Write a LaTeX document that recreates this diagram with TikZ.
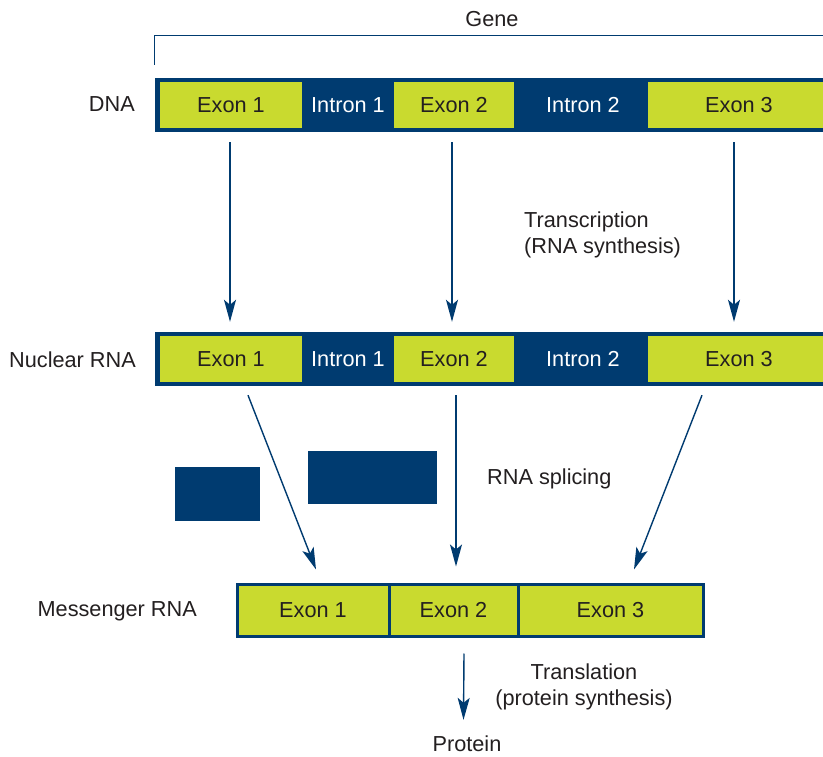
\documentclass[tikz,border=0pt]{standalone}
\usepackage{fontspec}
\setmainfont{Liberation Sans}
\usetikzlibrary{arrows.meta,calc}
\definecolor{dblue}{RGB}{0,59,112}
\definecolor{lime}{RGB}{201,218,47}
\definecolor{txt}{RGB}{35,31,32}
\begin{document}
\begin{tikzpicture}[x=1pt,y=-1pt,
  every node/.style={font=\fontsize{21.7}{26}\selectfont, text=txt, inner sep=0pt},
  bar/.style={fill=dblue, minimum height=54},
  exonbox/.style={fill=lime, minimum height=46},
  intronlbl/.style={text=white},
  mbox/.style={fill=lime, draw=dblue, line width=3pt, minimum height=52},
  arr/.style={draw=dblue, line width=1.4pt, -{Stealth[length=22pt,width=12pt,inset=5pt]}},
  block/.style={fill=dblue},
]
\useasboundingbox (0,0) rectangle (823,757);
\fill[white] (0,0) rectangle (823,757);

% DNA
\node[bar, minimum width=675] (dna) at (492.5,105) {};
\node[exonbox, minimum width=142] (de1) at (231,105) {Exon 1};
\node[intronlbl] (di1) at (348,105) {Intron 1};
\node[exonbox, minimum width=120] (de2) at (454,105) {Exon 2};
\node[intronlbl] (di2) at (583,105) {Intron 2};
\node[exonbox, minimum width=182] (de3) at (739,105) {Exon 3};

% Nuclear RNA
\node[bar, minimum width=675] (nuc) at (492.5,359) {};
\node[exonbox, minimum width=142] (ne1) at (231,359) {Exon 1};
\node[intronlbl] (ni1) at (348,359) {Intron 1};
\node[exonbox, minimum width=120] (ne2) at (454,359) {Exon 2};
\node[intronlbl] (ni2) at (583,359) {Intron 2};
\node[exonbox, minimum width=182] (ne3) at (739,359) {Exon 3};

% Messenger RNA
\node[mbox, minimum width=152] (me1) at (313,610) {Exon 1};
\node[mbox, minimum width=129] (me2) at (453.5,610) {Exon 2};
\node[mbox, minimum width=185] (me3) at (610.5,610) {Exon 3};

% excised introns
\node[block, minimum width=85, minimum height=54] (ib1) at (217.5,494) {};
\node[block, minimum width=129, minimum height=53] (ib2) at (372.5,477.5) {};

% labels
\node[anchor=east] (ldna) at (135,104) {DNA};
\node[anchor=east] (lnuc) at (136,360) {Nuclear RNA};
\node[anchor=east] (lmes) at (197,611) {Messenger RNA};
\node (gene) at (492,19) {Gene};
\node[anchor=west, align=left] (transc) at (524,235) {Transcription\\(RNA synthesis)};
\node[anchor=west] (splice) at (487,479) {RNA splicing};
\node[align=center] (transl) at (584,687) {Translation\\(protein synthesis)};
\node (protein) at (467,744) {Protein};

% gene bracket
\draw[dblue, line width=1.3pt] ($(dna.north west)+(0,-13)$) |- ($(dna.north east)+(0,-42)$);

% transcription arrows
\draw[arr] ($(de1.south)+(-1,14)$) -- ($(ne1.north)+(-1,-14)$);
\draw[arr] ($(de2.south)+(-2,14)$) -- ($(ne2.north)+(-2,-14)$);
\draw[arr] ($(de3.south)+(-5,14)$) -- ($(ne3.north)+(-5,-14)$);

% splicing arrows
\draw[arr] ($(ne1.south)+(17,13)$) -- ($(me1.north)+(3,-13)$);
\draw[arr] ($(ne2.south)+(2,13)$) -- ($(me2.north)+(2.5,-16)$);
\draw[arr] ($(ne3.south)+(-37,13)$) -- ($(me3.north)+(23.5,-13)$);

% translation arrow
\draw[arr] ($(me2.south)+(10.5,16)$) -- ($(protein.north)+(-3.5,-16)$);
\end{tikzpicture}
\end{document}
